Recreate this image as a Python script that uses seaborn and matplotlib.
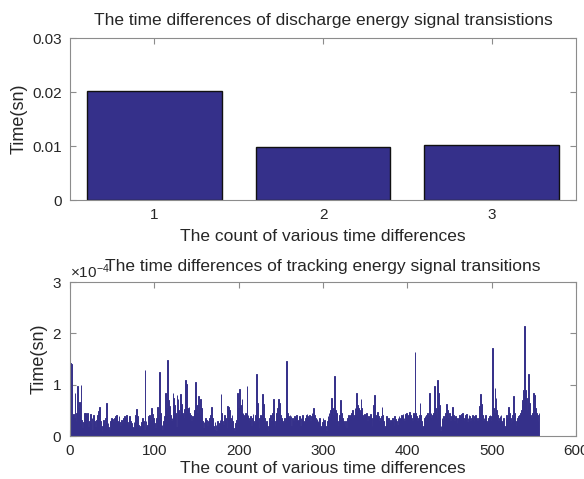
import numpy as np
import pandas as pd
import matplotlib
matplotlib.use("Agg")
import matplotlib.pyplot as plt
import seaborn as sns
from matplotlib.ticker import ScalarFormatter

# ---- data ----
discharge_idx = [1, 2, 3]
discharge_vals = [0.0202, 0.0099, 0.0101]

# tracking time differences in units of 1e-4 s
tracking_e4 = [
    1.42, 1.40, 0.38, 0.42, 0.35, 0.83, 0.30, 0.45, 0.97, 0.55, 0.67, 0.40, 1.00, 0.32, 0.15, 0.28, 0.44, 0.45, 0.20, 0.38,
    0.44, 0.18, 0.30, 0.42, 0.25, 0.35, 0.12, 0.40, 0.30, 0.18, 0.32, 0.26, 0.40, 0.48, 0.56, 0.30, 0.20, 0.10, 0.25, 0.32,
    0.22, 0.35, 0.65, 0.40, 0.25, 0.18, 0.12, 0.30, 0.35, 0.33, 0.20, 0.28, 0.36, 0.38, 0.40, 0.30, 0.25, 0.38, 0.28, 0.20,
    0.32, 0.25, 0.36, 0.30, 0.38, 0.35, 0.40, 0.28, 0.22, 0.35, 0.39, 0.30, 0.26, 0.18, 0.15, 0.28, 0.32, 0.40, 0.52, 0.38,
    0.22, 0.15, 0.08, 0.20, 0.28, 0.35, 0.30, 0.12, 1.29, 0.30, 0.18, 0.22, 0.38, 0.40, 0.35, 0.30, 0.54, 0.42, 0.36, 0.25,
    0.15, 0.10, 0.35, 0.57, 0.40, 1.25, 0.45, 0.38, 0.22, 0.12, 0.30, 0.38, 0.83, 0.55, 0.40, 1.48, 0.70, 0.58, 0.40, 0.30,
    0.35, 0.83, 0.75, 0.60, 0.45, 0.18, 0.79, 0.72, 0.50, 0.40, 0.81, 0.62, 0.45, 0.40, 0.35, 0.52, 1.09, 1.02, 0.55, 0.50,
    0.57, 0.45, 0.40, 0.30, 0.38, 0.35, 0.42, 0.50, 1.06, 0.60, 0.45, 0.77, 0.50, 0.40, 0.73, 0.55, 0.30, 0.15, 0.28, 0.34,
    0.36, 0.32, 0.20, 0.30, 0.35, 0.25, 0.40, 0.57, 0.35, 0.20, 0.12, 0.28, 0.22, 0.10, 0.30, 0.18, 0.25, 0.32, 0.81, 0.45,
    0.30, 0.22, 0.40, 0.35, 0.28, 0.15, 0.58, 0.57, 0.50, 0.35, 0.28, 0.40, 0.30, 0.15, 0.10, 0.25, 0.32, 0.40, 0.83, 0.55,
    0.91, 0.60, 0.45, 0.73, 0.44, 0.40, 0.38, 0.45, 0.42, 0.97, 0.40, 0.35, 0.30, 0.38, 0.20, 0.35, 0.42, 0.30, 0.25, 0.40,
    1.20, 0.65, 0.30, 0.15, 0.35, 0.40, 0.38, 0.82, 0.62, 0.45, 0.35, 0.25, 0.30, 0.20, 0.10, 0.25, 0.35, 0.40, 0.30, 0.45,
    0.72, 0.40, 0.20, 0.30, 0.45, 0.55, 0.73, 0.65, 0.50, 0.40, 0.35, 0.30, 0.25, 0.35, 0.30, 0.40, 1.47, 0.45, 0.38, 0.35,
    0.40, 0.38, 0.20, 0.35, 0.30, 0.38, 0.35, 0.15, 0.40, 0.30, 0.32, 0.38, 0.20, 0.36, 0.35, 0.40, 0.30, 0.28, 0.35, 0.40,
    0.42, 0.38, 0.35, 0.40, 0.30, 0.38, 0.45, 0.40, 0.54, 0.40, 0.35, 0.30, 0.34, 0.30, 0.25, 0.35, 0.20, 0.15, 0.28, 0.35,
    0.30, 0.32, 0.20, 0.10, 0.30, 0.38, 0.45, 0.35, 0.50, 0.75, 0.55, 0.40, 0.60, 1.17, 0.50, 0.45, 0.30, 0.20, 0.35, 0.40,
    0.70, 0.45, 0.35, 0.30, 0.25, 0.20, 0.30, 0.15, 0.35, 0.40, 0.38, 0.25, 0.40, 0.45, 0.50, 0.35, 0.40, 0.55, 0.60, 0.83,
    0.60, 0.55, 0.50, 0.45, 0.73, 0.55, 0.40, 0.35, 0.42, 0.40, 0.38, 0.45, 0.30, 0.38, 0.35, 0.42, 0.40, 0.20, 0.35, 0.60,
    0.79, 0.40, 0.35, 0.45, 0.47, 0.38, 0.30, 0.35, 0.38, 0.57, 0.40, 0.30, 0.15, 0.20, 0.38, 0.35, 0.30, 0.35, 0.25, 0.32,
    0.30, 0.35, 0.28, 0.20, 0.38, 0.33, 0.30, 0.22, 0.35, 0.38, 0.36, 0.34, 0.40, 0.38, 0.42, 0.36, 0.30, 0.42, 0.44, 0.40,
    0.38, 0.44, 0.46, 0.40, 0.36, 0.30, 0.45, 0.40, 1.63, 0.45, 0.38, 0.30, 0.35, 0.40, 0.64, 0.40, 0.30, 0.15, 0.20, 0.35,
    0.38, 0.30, 0.40, 0.45, 0.38, 0.84, 0.70, 0.45, 0.35, 0.40, 0.45, 0.97, 0.55, 0.40, 0.35, 1.10, 0.83, 0.60, 0.10, 0.20,
    0.35, 0.30, 0.38, 0.34, 0.45, 0.62, 0.40, 0.50, 0.35, 0.45, 0.30, 0.38, 0.45, 0.56, 0.40, 0.30, 0.38, 0.35, 0.25, 0.32,
    0.36, 0.40, 0.38, 0.42, 0.45, 0.38, 0.30, 0.35, 0.40, 0.42, 0.28, 0.35, 0.40, 0.38, 0.30, 0.35, 0.40, 0.33, 0.30, 0.38,
    0.40, 0.35, 0.30, 0.36, 0.40, 0.58, 0.82, 0.62, 0.40, 0.30, 0.35, 0.38, 0.40, 0.30, 0.25, 0.35, 0.38, 0.40, 0.30, 0.38,
    1.71, 0.55, 0.45, 0.93, 0.75, 0.50, 0.40, 0.30, 0.35, 0.38, 0.40, 0.30, 0.25, 0.35, 0.20, 0.15, 0.30, 0.40, 0.35, 0.57,
    0.45, 0.35, 0.25, 0.30, 0.40, 0.77, 0.45, 0.30, 0.20, 0.30, 0.35, 0.38, 0.40, 0.45, 0.50, 0.60, 0.70, 0.90, 2.15, 0.90,
    0.75, 0.50, 0.60, 1.21, 0.65, 0.40, 0.35, 0.45, 0.50, 0.83, 0.80, 0.55, 0.45, 0.40, 0.30, 0.44,
]
tracking_vals = [v * 1e-4 for v in tracking_e4]
tracking_idx = list(range(1, len(tracking_vals) + 1))

title_top = "The time differences of discharge energy signal transistions"
title_bot = "The time differences of tracking energy signal transitions"
xlabel = "The count of various time differences"
ylabel = "Time(sn)"

# ---- style ----
sns.set_style("white")
plt.rcParams['font.family'] = ['Liberation Sans', 'DejaVu Sans']
plt.rcParams['mathtext.fontset'] = 'custom'
plt.rcParams['mathtext.rm'] = 'Liberation Sans'
txt = '#262626'
axc = '#8c8c8c'
barc = '#35308a'

fig = plt.figure(figsize=(5.84, 4.79), dpi=100)
ax1 = fig.add_axes([70/584, 1-200/479, 506/584, 162/479])
ax2 = fig.add_axes([70/584, 1-436/479, 506/584, 154/479])

df1 = pd.DataFrame({"x": discharge_idx, "y": discharge_vals})
sns.barplot(data=df1, x="x", y="y", native_scale=True, width=0.8, color=barc,
            saturation=1, edgecolor='#111111', linewidth=1.0, ax=ax1)
ax1.set_xlim(0.5, 3.5)
ax1.set_ylim(0, 0.03)
ax1.set_xticks([1, 2, 3])
ax1.set_yticks([0, 0.01, 0.02, 0.03])
ax1.set_yticklabels(['0', '0.01', '0.02', '0.03'])

df2 = pd.DataFrame({"x": tracking_idx, "y": tracking_vals})
sns.barplot(data=df2, x="x", y="y", native_scale=True, width=0.9, color=barc,
            saturation=1, edgecolor=barc, linewidth=0.7, ax=ax2)
ax2.set_xlim(0, 600)
ax2.set_ylim(0, 3e-4)
ax2.set_xticks(range(0, 601, 100))
ax2.set_yticks([0, 1e-4, 2e-4, 3e-4])
fmt = ScalarFormatter(useMathText=True)
fmt.set_powerlimits((0, 0))
ax2.yaxis.set_major_formatter(fmt)
ax2.yaxis.get_offset_text().set_fontsize(11)
ax2.yaxis.get_offset_text().set_color(txt)

for ax, t, tp, lp in ((ax1, title_top, 9, 5), (ax2, title_bot, 8, 2)):
    ax.set_title(t, fontsize=12.5, color=txt, pad=tp, y=1.0)
    ax.set_xlabel(xlabel, fontsize=12.5, color=txt, labelpad=lp)
    ax.set_ylabel(ylabel, fontsize=13, color=txt, labelpad=3)
    ax.tick_params(direction='in', length=4, width=0.8, colors=axc, labelcolor=txt,
                   labelsize=11, top=True, right=True, bottom=True, left=True, pad=6)
    for s in ax.spines.values():
        s.set_visible(True)
        s.set_color(axc)
        s.set_linewidth(0.8)

fig.savefig("out.png", dpi=100)
